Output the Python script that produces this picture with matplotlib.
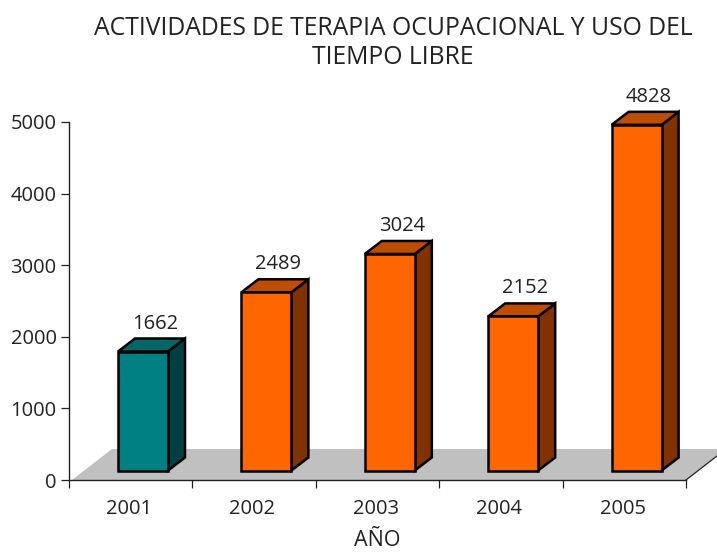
import matplotlib
matplotlib.use("Agg")
import matplotlib.pyplot as plt
from matplotlib.patches import Polygon

plt.rcParams['font.family'] = ['Open Sans', 'Noto Sans', 'DejaVu Sans']

years = ['2001', '2002', '2003', '2004', '2005']
values = [1662, 2489, 3024, 2152, 4828]
front_colors = ['#008080', '#FF6600', '#FF6600', '#FF6600', '#FF6600']
top_colors = ['#006666', '#BF4D00', '#BF4D00', '#BF4D00', '#BF4D00']
side_colors = ['#004040', '#803300', '#803300', '#803300', '#803300']
title = 'ACTIVIDADES DE TERAPIA OCUPACIONAL Y USO DEL\nTIEMPO LIBRE'
y_ticks = [0, 1000, 2000, 3000, 4000, 5000]

W, H = 717, 553
fig = plt.figure(figsize=(W / 100, H / 100), dpi=100)
L, R, T, B = 69, 686, 122, 480
ax = fig.add_axes([L / W, 1 - B / H, (R - L) / W, (B - T) / H])
ax.set_xlim(0, 5)
ax.set_ylim(0, 5000)
ax.patch.set_visible(False)

ux = (R - L) / 5
uy = (B - T) / 5000
dx, dy = 17 / ux, 13 / uy
base = 9.5 / uy
bar_w = 50 / ux
floor_dx, floor_dy = 40 / ux, 31 / uy
txt = '#222222'

ax.add_patch(Polygon([(3 / ux, 0), (5, 0), (5 + floor_dx, floor_dy), (floor_dx + 3 / ux, floor_dy)],
                     closed=True, fc='#C0C0C0', ec='none', clip_on=False, zorder=1))
ax.plot([5, 5 + floor_dx], [0, floor_dy], color=txt, lw=0.9, clip_on=False, zorder=1.5)

for i, (v, fc, tc, sc) in enumerate(zip(values, front_colors, top_colors, side_colors)):
    x0 = i + 0.5 - bar_w / 2 + 12.3 / ux
    x1 = x0 + bar_w
    y0, y1 = base, base + v
    kw = dict(closed=True, ec='black', lw=1.8, joinstyle='miter', clip_on=False, zorder=3)
    ax.add_patch(Polygon([(x1, y0), (x1 + dx, y0 + dy), (x1 + dx, y1 + dy), (x1, y1)], fc=sc, **kw))
    ax.add_patch(Polygon([(x0, y1), (x1, y1), (x1 + dx, y1 + dy), (x0 + dx, y1 + dy)], fc=tc, **kw))
    ax.add_patch(Polygon([(x0, y0), (x1, y0), (x1, y1), (x0, y1)], fc=fc, **kw))
    ax.text((x0 + x1) / 2 + 12 / ux, y1 + 28 / uy, str(v), ha='center', va='center',
            fontsize=14.5, color=txt, zorder=4, clip_on=False)

for s in ['top', 'right']:
    ax.spines[s].set_visible(False)
for s in ['left', 'bottom']:
    ax.spines[s].set_linewidth(1.0)
    ax.spines[s].set_color(txt)
    ax.spines[s].set_zorder(2)

ax.set_yticks(y_ticks)
ax.tick_params(axis='y', length=5.5, width=0.9, pad=3.5, labelsize=14.5, labelcolor=txt, color=txt)
ax.set_xticks(range(6))
ax.set_xticklabels([])
ax.tick_params(axis='x', length=5.5, width=0.9, color=txt)

for i, y in enumerate(years):
    ax.text(i + 0.5 - 1.7 / ux, -28.5 / uy, y, ha='center', va='center', fontsize=14.5,
            color=txt, clip_on=False)

fig.text(377 / W, 1 - 541 / H, 'AÑO', ha='center', va='center', fontsize=15.5, color=txt)
fig.text(393 / W, 1 - 43 / H, title, ha='center', va='center', fontsize=17.8, color=txt,
         linespacing=1.26)

fig.savefig('out.png', dpi=100)
